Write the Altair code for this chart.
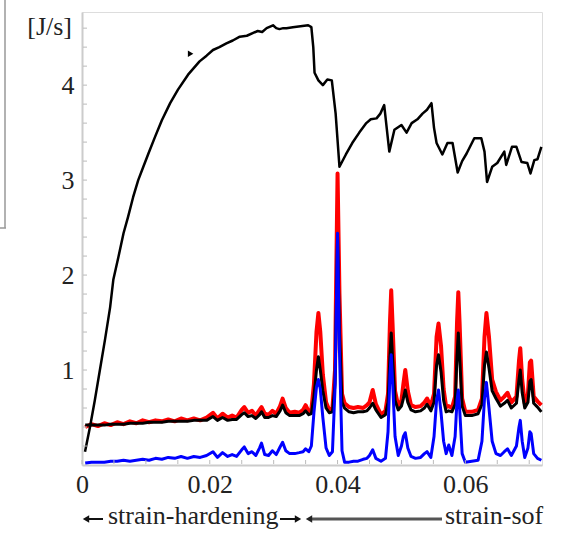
import altair as alt
import pandas as pd

# ---- data ----
lower_x = [0.0005, 0.0015, 0.0025, 0.0035, 0.0045, 0.0055, 0.0065, 0.0075, 0.0085, 0.0095,
           0.0105, 0.0115, 0.0125, 0.0135, 0.0145, 0.0155, 0.0165, 0.0175, 0.0185, 0.0195,
           0.0205, 0.0212, 0.0220, 0.0228, 0.0235, 0.0242, 0.0250, 0.0254, 0.0260, 0.0266,
           0.0272, 0.0278, 0.0281, 0.0286, 0.0292, 0.0298, 0.0304, 0.0310, 0.0314, 0.0319,
           0.0325, 0.0333, 0.0340, 0.0346, 0.0350, 0.0355, 0.0359, 0.0363, 0.0367, 0.0370,
           0.0373, 0.0377, 0.0382, 0.0387, 0.0392, 0.0396, 0.0400, 0.0403, 0.0407, 0.0411,
           0.0418, 0.0425, 0.0432, 0.0440, 0.0446, 0.0450, 0.0455, 0.0460, 0.0468, 0.0475,
           0.0479, 0.0482, 0.0484, 0.0486, 0.0490, 0.0495, 0.0500, 0.0503, 0.0506, 0.0510,
           0.0515, 0.0522, 0.0530, 0.0536, 0.0540, 0.0546, 0.0551, 0.0555, 0.0558, 0.0562,
           0.0566, 0.0570, 0.0574, 0.0579, 0.0584, 0.0587, 0.0589, 0.0591, 0.0595, 0.0600,
           0.0610, 0.0620, 0.0626, 0.0630, 0.0633, 0.0637, 0.0642, 0.0648, 0.0655, 0.0661,
           0.0666, 0.0672, 0.0680, 0.0684, 0.0686, 0.0689, 0.0693, 0.0698, 0.0701, 0.0703,
           0.0707, 0.0713, 0.0719]
red_vals = [0.40, 0.43, 0.41, 0.44, 0.42, 0.45, 0.43, 0.46, 0.44, 0.47,
            0.45, 0.47, 0.46, 0.48, 0.46, 0.49, 0.47, 0.49, 0.47, 0.50,
            0.55, 0.49, 0.54, 0.50, 0.52, 0.50, 0.58, 0.61, 0.55, 0.57,
            0.52, 0.58, 0.61, 0.54, 0.53, 0.57, 0.54, 0.62, 0.70, 0.60,
            0.55, 0.56, 0.55, 0.58, 0.63, 0.56, 0.58, 0.85, 1.40, 1.60,
            1.40, 0.95, 0.66, 0.58, 0.60, 1.00, 3.07, 1.80, 0.75, 0.65,
            0.61, 0.60, 0.61, 0.60, 0.63, 0.66, 0.79, 0.64, 0.53, 0.57,
            0.75, 1.50, 1.84, 1.50, 0.78, 0.62, 0.68, 0.85, 1.00, 0.78,
            0.63, 0.61, 0.62, 0.66, 0.70, 0.62, 0.75, 1.35, 1.49, 1.25,
            0.80, 0.61, 0.62, 0.60, 0.72, 1.50, 1.82, 1.50, 0.70, 0.56,
            0.56, 0.58, 0.70, 1.35, 1.60, 1.35, 0.90, 0.77, 0.68, 0.72,
            0.76, 0.66, 0.72, 1.10, 1.23, 0.90, 0.65, 0.75, 1.08, 1.10,
            0.72, 0.67, 0.63]
black_vals = [0.42, 0.42, 0.42, 0.42, 0.43, 0.43, 0.43, 0.44, 0.44, 0.44,
              0.45, 0.45, 0.45, 0.46, 0.46, 0.46, 0.46, 0.47, 0.47, 0.47,
              0.51, 0.47, 0.50, 0.47, 0.48, 0.48, 0.53, 0.55, 0.51, 0.52,
              0.49, 0.53, 0.56, 0.50, 0.50, 0.52, 0.51, 0.57, 0.63, 0.55,
              0.52, 0.52, 0.52, 0.54, 0.57, 0.53, 0.54, 0.72, 1.00, 1.14,
              1.00, 0.78, 0.60, 0.55, 0.56, 0.85, 2.40, 1.40, 0.66, 0.60,
              0.56, 0.55, 0.56, 0.56, 0.57, 0.60, 0.65, 0.58, 0.50, 0.53,
              0.66, 1.15, 1.39, 1.15, 0.68, 0.58, 0.62, 0.70, 0.79, 0.66,
              0.58, 0.56, 0.57, 0.60, 0.64, 0.57, 0.66, 1.05, 1.16, 0.98,
              0.68, 0.56, 0.57, 0.56, 0.64, 1.15, 1.39, 1.15, 0.62, 0.52,
              0.52, 0.54, 0.64, 1.05, 1.19, 1.02, 0.78, 0.70, 0.62, 0.65,
              0.68, 0.60, 0.65, 0.90, 1.00, 0.76, 0.60, 0.66, 0.88, 0.90,
              0.65, 0.61, 0.56]
blue_vals = [0.02, 0.03, 0.03, 0.03, 0.04, 0.04, 0.05, 0.04, 0.05, 0.06,
             0.05, 0.07, 0.06, 0.08, 0.07, 0.09, 0.07, 0.09, 0.08, 0.10,
             0.14, 0.08, 0.13, 0.09, 0.11, 0.09, 0.16, 0.19, 0.12, 0.14,
             0.10, 0.18, 0.23, 0.11, 0.10, 0.15, 0.11, 0.19, 0.24, 0.15,
             0.12, 0.12, 0.13, 0.14, 0.17, 0.14, 0.20, 0.55, 0.82, 0.90,
             0.80, 0.50, 0.18, 0.10, 0.14, 0.80, 2.44, 1.20, 0.15, 0.03,
             0.03, 0.04, 0.04, 0.06, 0.07, 0.10, 0.16, 0.07, 0.04, 0.07,
             0.35, 0.95, 1.16, 0.90, 0.30, 0.10, 0.20, 0.30, 0.34, 0.18,
             0.09, 0.07, 0.08, 0.12, 0.14, 0.08, 0.30, 0.68, 0.79, 0.55,
             0.25, 0.12, 0.21, 0.10, 0.30, 0.68, 0.79, 0.60, 0.12, 0.03,
             0.04, 0.05, 0.25, 0.70, 0.87, 0.60, 0.25, 0.12, 0.10, 0.14,
             0.17, 0.10, 0.20, 0.40, 0.47, 0.25, 0.08, 0.18, 0.35, 0.33,
             0.12, 0.07, 0.05]

upper_x = [0.00047, 0.00125, 0.0020, 0.0028, 0.0036, 0.0044, 0.0049, 0.0057, 0.0065, 0.0072,
           0.0080, 0.0088, 0.0096, 0.0104, 0.0114, 0.0125, 0.0138, 0.0150, 0.0166, 0.0184,
           0.0195, 0.0205, 0.0215, 0.0226, 0.0236, 0.0247, 0.0258, 0.0268, 0.0275, 0.0282,
           0.0289, 0.0299, 0.0304, 0.0309, 0.0315, 0.0320, 0.0330, 0.0342, 0.0354, 0.0359,
           0.0362, 0.0364, 0.0370, 0.0377, 0.0384, 0.0391, 0.0397, 0.0403, 0.0413, 0.0423,
           0.0434, 0.0445, 0.0452, 0.0461, 0.0467, 0.0473, 0.0481, 0.0489, 0.0500, 0.0508,
           0.0516, 0.0525, 0.0533, 0.0540, 0.0547, 0.0551, 0.0555, 0.0564, 0.0572, 0.0580,
           0.0588, 0.0595, 0.0602, 0.0614, 0.0625, 0.0630, 0.0634, 0.0642, 0.0650, 0.0661,
           0.0664, 0.0673, 0.0680, 0.0688, 0.0697, 0.0702, 0.0708, 0.0713, 0.0719]
upper_vals = [0.14, 0.40, 0.68, 1.00, 1.32, 1.66, 1.95, 2.19, 2.44, 2.61,
              2.82, 3.00, 3.14, 3.28, 3.45, 3.63, 3.81, 3.95, 4.11, 4.25,
              4.31, 4.37, 4.40, 4.44, 4.47, 4.51, 4.52, 4.55, 4.57, 4.56,
              4.60, 4.63, 4.60, 4.59, 4.60, 4.60, 4.61, 4.62, 4.63, 4.61,
              4.40, 4.13, 4.05, 4.00, 4.06, 4.05, 3.70, 3.14, 3.27, 3.39,
              3.50, 3.60, 3.64, 3.65, 3.70, 3.79, 3.30, 3.53, 3.58, 3.50,
              3.60, 3.64, 3.70, 3.74, 3.81, 3.55, 3.39, 3.27, 3.39, 3.39,
              3.08, 3.20, 3.28, 3.44, 3.44, 3.30, 2.98, 3.14, 3.18, 3.30,
              3.16, 3.35, 3.35, 3.19, 3.18, 3.07, 3.21, 3.22, 3.35]

x_major = [0, 0.02, 0.04, 0.06]
y_major = [1, 2, 3, 4]
x_minor = [0, 0.005, 0.01, 0.015, 0.02, 0.025, 0.03, 0.035, 0.04, 0.045,
           0.05, 0.055, 0.06, 0.065, 0.07]
y_minor = [0.2, 0.4, 0.6, 0.8, 1.0, 1.2, 1.4, 1.6, 1.8, 2.0, 2.2, 2.4, 2.6, 2.8,
           3.0, 3.2, 3.4, 3.6, 3.8, 4.0, 4.2, 4.4, 4.6]

marker_x = [0.0170]
marker_y = [4.33]

X_DOM = [0, 0.072]
Y_DOM = [0, 4.77]
FONT = "Liberation Serif"
W, H = 460, 453

lower = pd.DataFrame({"x": lower_x, "red": red_vals, "black": black_vals, "blue": blue_vals})
upper = pd.DataFrame({"x": upper_x, "y": upper_vals})

xs = alt.Scale(domain=X_DOM, nice=False, zero=False)
ys = alt.Scale(domain=Y_DOM, nice=False, zero=False)

xaxis = alt.Axis(values=x_major, format="~g", title="", ticks=False, grid=False,
                 domainColor="#cccccc", domainWidth=2, labelFont=FONT, labelFontSize=26,
                 labelColor="#222222", labelPadding=6, labelFlush=False)
yaxis = alt.Axis(values=y_major, format="d", title="", ticks=False, grid=False,
                 domainColor="#cccccc", domainWidth=2, labelFont=FONT, labelFontSize=26,
                 labelColor="#222222", labelPadding=8)

base = alt.Chart(lower)

red_line = base.mark_line(color="#ff0000", strokeWidth=4, strokeJoin="round").encode(
    x=alt.X("x:Q", scale=xs, axis=xaxis), y=alt.Y("red:Q", scale=ys, axis=yaxis))
black_line = base.mark_line(color="#000000", strokeWidth=3, strokeJoin="round").encode(
    x=alt.X("x:Q", scale=xs), y=alt.Y("black:Q", scale=ys))
blue_line = base.mark_line(color="#0000ff", strokeWidth=3, strokeJoin="round").encode(
    x=alt.X("x:Q", scale=xs), y=alt.Y("blue:Q", scale=ys))
upper_line = alt.Chart(upper).mark_line(color="#000000", strokeWidth=2.5,
                                        strokeJoin="round").encode(
    x=alt.X("x:Q", scale=xs), y=alt.Y("y:Q", scale=ys))

xt = alt.Chart(pd.DataFrame({"t": x_minor})).mark_rule(color="#bbbbbb", strokeWidth=1).encode(
    x=alt.X("t:Q", scale=xs), y=alt.value(H - 1), y2=alt.value(H - 5))
yt = alt.Chart(pd.DataFrame({"t": y_minor})).mark_rule(color="#bbbbbb", strokeWidth=1).encode(
    y=alt.Y("t:Q", scale=ys), x=alt.value(1), x2=alt.value(5))

marker = alt.Chart(pd.DataFrame({"x": marker_x, "y": marker_y})).mark_point(
    shape="triangle-right", filled=True, color="#000000", size=40, opacity=1).encode(
    x=alt.X("x:Q", scale=xs), y=alt.Y("y:Q", scale=ys))

one = pd.DataFrame({"a": [0]})

def txt(s, x, y, align="left", color="#222222"):
    return alt.Chart(one).mark_text(text=s, font=FONT, fontSize=26, align=align,
                                    baseline="alphabetic", color=color).encode(
        x=alt.value(x), y=alt.value(y))

def rule(x1, x2, y1, y2, color, w):
    return alt.Chart(one).mark_rule(color=color, strokeWidth=w).encode(
        x=alt.value(x1), x2=alt.value(x2), y=alt.value(y1), y2=alt.value(y2))

def head(x, y, shape, color, size=55):
    return alt.Chart(one).mark_point(shape=shape, filled=True, color=color, size=size,
                                     opacity=1).encode(x=alt.value(x), y=alt.value(y))

unit = txt("[J/s]", -10, 23, align="right")
hard = txt("strain-hardening", 26, 512)
soft = txt("strain-sof", 363, 512)
arrows = [
    rule(3, 21, 507, 507, "#111111", 2), head(4, 507, "triangle-left", "#111111"),
    rule(198, 217, 507, 507, "#111111", 2), head(216, 507, "triangle-right", "#111111"),
    rule(228, 360, 507, 507, "#555555", 3), head(227, 507, "triangle-left", "#222222"),
]
frame = [rule(-77, -77, -12, 216, "#999999", 1.5), rule(-82, -76, 216, 216, "#999999", 1.5)]

chart = alt.layer(
    red_line, black_line, blue_line, upper_line, xt, yt, marker,
    unit, hard, soft, *arrows, *frame
).properties(
    width=W, height=H, autosize=alt.AutoSizeParams(type="none"),
    padding={"left": 82, "top": 12, "right": 20, "bottom": 69}
).configure_view(stroke=None).configure(background="white")

chart.save("out.html", embed_options={"renderer": "svg", "actions": False})
